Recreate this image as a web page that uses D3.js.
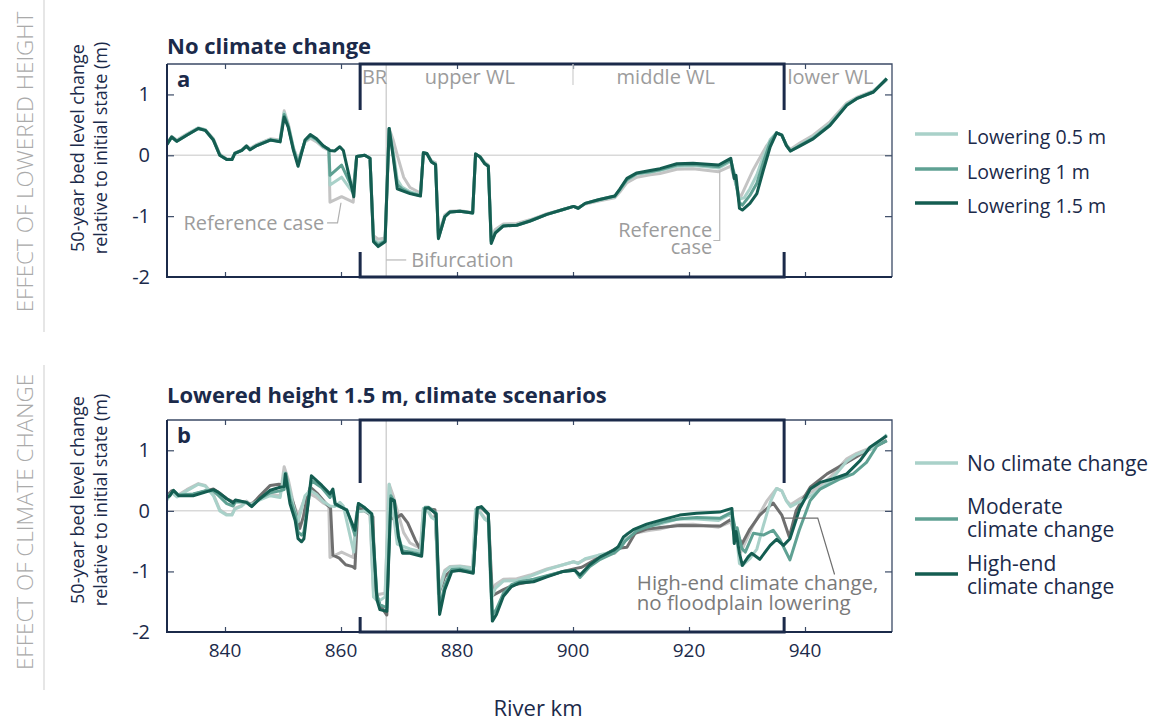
<!DOCTYPE html>
<html>
<head>
<meta charset="utf-8">
<script src="https://cdn.jsdelivr.net/npm/d3@7"></script>
<style>
  body { margin: 0; background: #fff; }
  text { font-family: "Open Sans", "Noto Sans", sans-serif; }
</style>
</head>
<body>
<svg id="chart" width="1171" height="724"></svg>
<script>
// ---- data: 50-year bed level change (m) along the river (km) ----
const riverKmTicks = [840, 860, 880, 900, 920, 940];
const levelTicks = [1, 0, -1, -2];

// reach boundaries (river km)
const waalReach = [863.3, 936.4];
const bifurcationKm = 867.8;
const upperMiddleKm = 900;

// reference case: no floodplain lowering, no climate change
const referenceCase = [[830.0,0.20],[830.8,0.31],[831.7,0.25],[833.4,0.35],[835.4,0.45],[836.6,0.42],[838.0,0.27],[839.1,0.02],[840.3,-0.06],[841.2,-0.06],[841.7,0.04],[842.9,0.09],[843.7,0.16],[844.3,0.11],[845.5,0.18],[847.8,0.27],[849.5,0.25],[850.2,0.73],[850.9,0.52],[851.8,0.12],[852.6,-0.08],[853.8,0.22],[854.7,0.28],[855.8,0.22],[856.9,0.13],[857.9,0.08],[858.1,-0.77],[860.1,-0.68],[862.1,-0.77],[862.7,-0.02],[864.1,0.00],[865.0,-0.05],[865.6,-1.32],[866.4,-1.38],[867.6,-1.36],[868.3,0.44],[869.0,0.25],[869.8,-0.03],[870.8,-0.36],[871.9,-0.53],[873.7,-0.62],[874.2,0.04],[874.8,0.03],[875.6,-0.09],[876.3,-0.12],[876.8,-1.30],[877.9,-0.98],[878.8,-0.92],[880.5,-0.91],[882.7,-0.94],[883.2,0.02],[884.0,-0.02],[884.8,-0.12],[885.4,-0.16],[885.9,-1.35],[886.6,-1.22],[888.0,-1.13],[890.3,-1.12],[892.6,-1.06],[895.5,-0.96],[898.3,-0.89],[900.1,-0.84],[900.9,-0.86],[902.1,-0.80],[904.4,-0.75],[907.2,-0.70],[908.1,-0.60],[909.3,-0.45],[911.0,-0.36],[913.3,-0.32],[915.0,-0.30],[917.9,-0.23],[920.7,-0.22],[925.1,-0.27],[927.2,-0.18],[928.8,-0.71],[931.0,-0.25],[933.4,0.16],[935.1,0.37],[936.0,0.33],[936.8,0.17],[937.5,0.10],[939.1,0.20],[941.4,0.33],[944.3,0.55],[947.2,0.86],[948.9,0.95],[951.8,1.06],[954.1,1.24]];

// floodplain lowering 0.5 m, no climate change
const lowering05 = [[830.0,0.19],[830.8,0.30],[831.7,0.24],[833.4,0.34],[835.4,0.45],[836.6,0.42],[838.0,0.26],[839.1,0.01],[840.3,-0.07],[841.2,-0.07],[841.7,0.03],[842.9,0.08],[843.7,0.15],[844.3,0.10],[845.5,0.17],[847.8,0.26],[849.5,0.24],[850.2,0.70],[850.9,0.50],[851.8,0.12],[852.6,-0.10],[853.8,0.23],[854.7,0.30],[855.8,0.24],[856.9,0.14],[857.9,0.10],[858.1,-0.49],[860.1,-0.36],[862.1,-0.62],[862.7,-0.02],[864.1,0.00],[865.0,-0.05],[865.6,-1.38],[866.4,-1.44],[867.6,-1.40],[868.3,0.44],[869.0,0.08],[869.7,-0.40],[870.5,-0.52],[871.9,-0.60],[873.7,-0.65],[874.2,0.04],[874.8,0.03],[875.6,-0.10],[876.3,-0.14],[876.8,-1.34],[877.9,-1.00],[878.8,-0.93],[880.5,-0.92],[882.7,-0.95],[883.2,0.02],[884.0,-0.03],[884.8,-0.13],[885.4,-0.17],[885.9,-1.40],[886.6,-1.25],[888.0,-1.15],[890.3,-1.14],[892.6,-1.07],[895.5,-0.97],[898.3,-0.89],[900.1,-0.84],[900.9,-0.87],[902.1,-0.79],[904.4,-0.74],[907.2,-0.68],[908.1,-0.57],[909.3,-0.41],[911.0,-0.31],[913.3,-0.28],[915.0,-0.25],[917.9,-0.18],[920.7,-0.17],[925.1,-0.21],[927.2,-0.10],[928.7,-0.72],[929.5,-0.70],[930.5,-0.55],[931.7,-0.32],[932.8,-0.02],[934.0,0.26],[935.1,0.37],[936.0,0.33],[936.8,0.16],[937.5,0.08],[939.1,0.17],[941.4,0.30],[944.3,0.52],[947.2,0.84],[948.9,0.94],[951.8,1.05],[954.1,1.25]];

// floodplain lowering 1 m, no climate change
const lowering10 = [[830.0,0.18],[830.8,0.30],[831.7,0.23],[833.4,0.33],[835.4,0.44],[836.6,0.41],[838.0,0.25],[839.1,0.00],[840.3,-0.07],[841.2,-0.07],[841.7,0.03],[842.9,0.08],[843.7,0.15],[844.3,0.09],[845.5,0.16],[847.8,0.25],[849.5,0.23],[850.2,0.67],[850.9,0.48],[851.8,0.10],[852.6,-0.14],[853.8,0.24],[854.7,0.32],[855.8,0.26],[856.9,0.15],[857.9,0.10],[858.1,-0.33],[860.1,-0.16],[862.1,-0.57],[862.7,-0.02],[864.1,0.00],[865.0,-0.05],[865.6,-1.40],[866.4,-1.47],[867.6,-1.41],[868.3,0.44],[869.0,0.00],[869.7,-0.48],[870.5,-0.55],[871.9,-0.62],[873.7,-0.66],[874.2,0.04],[874.8,0.03],[875.6,-0.11],[876.3,-0.15],[876.8,-1.36],[877.9,-1.01],[878.8,-0.93],[880.5,-0.92],[882.7,-0.95],[883.2,0.02],[884.0,-0.03],[884.8,-0.14],[885.4,-0.18],[885.9,-1.42],[886.6,-1.27],[888.0,-1.16],[890.3,-1.15],[892.6,-1.08],[895.5,-0.97],[898.3,-0.89],[900.1,-0.84],[900.9,-0.87],[902.1,-0.79],[904.4,-0.73],[907.2,-0.67],[908.1,-0.56],[909.3,-0.40],[911.0,-0.30],[913.3,-0.27],[915.0,-0.24],[917.9,-0.16],[920.7,-0.15],[925.1,-0.19],[927.2,-0.08],[927.8,-0.30],[928.7,-0.78],[929.2,-0.82],[930.5,-0.66],[931.7,-0.46],[932.8,-0.12],[934.0,0.22],[935.1,0.37],[936.0,0.33],[936.8,0.16],[937.5,0.07],[939.1,0.16],[941.4,0.28],[944.3,0.50],[947.2,0.83],[948.9,0.93],[951.8,1.04],[954.1,1.26]];

// floodplain lowering 1.5 m, no climate change
const lowering15 = [[830.0,0.18],[830.8,0.30],[831.7,0.23],[833.4,0.33],[835.4,0.44],[836.6,0.41],[838.0,0.25],[839.1,0.00],[840.3,-0.07],[841.2,-0.07],[841.7,0.03],[842.9,0.08],[843.7,0.15],[844.3,0.09],[845.5,0.16],[847.8,0.25],[849.5,0.22],[850.2,0.63],[850.9,0.46],[851.8,0.08],[852.6,-0.18],[853.8,0.25],[854.7,0.34],[855.8,0.27],[856.9,0.16],[858.1,0.08],[858.9,0.07],[859.8,0.14],[860.4,0.08],[862.2,-0.68],[862.7,-0.02],[864.1,0.00],[865.0,-0.05],[865.6,-1.42],[866.4,-1.50],[867.6,-1.42],[868.3,0.44],[869.0,-0.03],[869.7,-0.55],[870.5,-0.58],[871.9,-0.63],[873.7,-0.67],[874.2,0.04],[874.8,0.03],[875.6,-0.11],[876.3,-0.15],[876.8,-1.37],[877.9,-1.01],[878.8,-0.93],[880.5,-0.92],[882.7,-0.95],[883.2,0.02],[884.0,-0.03],[884.8,-0.14],[885.4,-0.18],[885.9,-1.45],[886.6,-1.28],[888.0,-1.16],[890.3,-1.15],[892.6,-1.08],[895.5,-0.97],[898.3,-0.89],[900.1,-0.84],[900.9,-0.87],[902.1,-0.79],[904.4,-0.73],[907.2,-0.67],[908.1,-0.55],[909.3,-0.38],[911.0,-0.29],[913.3,-0.25],[915.0,-0.22],[917.9,-0.14],[920.7,-0.13],[925.1,-0.16],[927.2,-0.05],[927.8,-0.38],[928.1,-0.33],[928.7,-0.87],[929.2,-0.90],[930.5,-0.79],[931.7,-0.63],[932.8,-0.25],[934.0,0.14],[935.1,0.37],[936.0,0.33],[936.8,0.16],[937.5,0.07],[939.1,0.15],[941.4,0.27],[944.3,0.49],[947.2,0.82],[948.9,0.93],[951.8,1.04],[954.1,1.26]];

// high-end climate change, no floodplain lowering
const highEndNoLowering = [[830.0,0.25],[830.8,0.33],[831.7,0.26],[834.5,0.27],[838.0,0.36],[839.0,0.30],[840.3,0.20],[841.4,0.15],[841.8,0.17],[843.7,0.14],[844.6,0.10],[846.0,0.25],[847.8,0.42],[849.3,0.44],[850.2,0.42],[850.5,0.55],[851.1,0.30],[851.8,0.12],[852.4,-0.10],[852.9,-0.29],[853.5,-0.10],[854.1,0.20],[854.7,0.39],[856.0,0.28],[857.6,0.10],[858.2,0.05],[858.6,-0.73],[859.7,-0.78],[860.8,-0.89],[862.0,-0.92],[862.4,-0.95],[862.9,0.06],[864.1,0.00],[865.5,-0.10],[865.9,-1.30],[866.7,-1.55],[867.9,-1.72],[868.4,-0.10],[869.2,-0.14],[870.4,-0.06],[871.5,-0.20],[872.8,-0.48],[873.7,-0.64],[874.5,0.04],[876.2,0.02],[876.9,-1.35],[877.9,-1.08],[879.1,-0.98],[882.8,-1.00],[883.5,0.04],[884.2,0.05],[885.4,-0.06],[886.1,-1.40],[888.0,-1.30],[889.8,-1.22],[892.6,-1.17],[895.5,-1.08],[898.3,-1.00],[900.5,-0.95],[901.5,-0.93],[904.7,-0.76],[907.5,-0.62],[909.3,-0.60],[910.7,-0.37],[912.7,-0.30],[918.4,-0.24],[925.4,-0.25],[927.4,-0.13],[928.3,-0.38],[929.1,-0.55],[930.5,-0.30],[932.2,-0.07],[934.5,0.13],[936.0,-0.07],[937.3,-0.43],[938.5,0.01],[940.9,0.39],[943.8,0.61],[947.2,0.80],[950.6,0.99],[954.1,1.16]];

// floodplain lowering 1.5 m, moderate climate change
const moderateClimate = [[830.0,0.22],[830.6,0.28],[831.2,0.33],[832.0,0.26],[834.5,0.28],[836.5,0.33],[838.0,0.33],[838.9,0.25],[840.3,0.12],[841.4,0.08],[841.8,0.15],[843.7,0.14],[844.6,0.08],[846.0,0.20],[847.8,0.30],[849.5,0.33],[850.2,0.35],[850.5,0.62],[851.2,0.20],[852.1,-0.05],[852.6,-0.35],[853.2,-0.40],[853.6,-0.35],[854.9,0.50],[856.7,0.38],[858.1,0.22],[858.6,0.30],[859.0,0.10],[861.0,0.02],[862.4,-0.40],[863.0,0.12],[864.1,0.05],[865.3,-0.05],[866.2,-1.40],[866.7,-1.55],[867.9,-1.60],[868.6,0.25],[869.2,0.15],[869.9,-0.40],[870.6,-0.66],[871.9,-0.68],[873.9,-0.72],[874.5,0.06],[875.1,0.06],[876.4,-0.04],[877.0,-1.62],[877.9,-1.22],[879.1,-0.97],[880.5,-0.96],[882.8,-1.01],[883.5,0.05],[884.2,0.06],[885.4,-0.06],[886.1,-1.72],[886.8,-1.62],[888.0,-1.36],[889.4,-1.22],[890.8,-1.17],[893.2,-1.13],[895.5,-1.07],[898.3,-1.00],[900.3,-0.98],[901.2,-1.10],[902.9,-0.92],[904.7,-0.80],[907.0,-0.70],[908.1,-0.62],[909.0,-0.50],[911.0,-0.33],[912.7,-0.27],[915.6,-0.18],[918.4,-0.13],[921.3,-0.11],[925.4,-0.12],[927.4,-0.02],[928.0,-0.32],[928.3,-0.28],[929.1,-0.62],[929.7,-0.68],[931.1,-0.37],[932.8,-0.40],[934.5,-0.32],[935.7,-0.48],[937.4,-0.81],[939.0,-0.32],[940.9,0.17],[942.6,0.36],[946.1,0.53],[948.3,0.61],[950.6,0.80],[952.4,1.07],[954.1,1.16]];

// floodplain lowering 1.5 m, high-end climate change
const highEndClimate = [[830.0,0.22],[830.5,0.25],[831.1,0.34],[832.0,0.25],[834.5,0.25],[838.0,0.35],[838.8,0.31],[840.3,0.20],[841.4,0.13],[841.8,0.18],[843.7,0.14],[844.6,0.07],[846.0,0.20],[847.8,0.34],[849.5,0.39],[850.2,0.40],[850.4,0.61],[851.2,0.12],[852.1,-0.16],[852.6,-0.46],[853.2,-0.51],[853.6,-0.46],[854.9,0.58],[855.8,0.50],[856.7,0.42],[858.1,0.28],[858.6,0.36],[859.0,0.12],[861.0,0.01],[862.4,-0.32],[863.0,0.12],[864.1,0.05],[865.3,-0.05],[866.2,-1.47],[866.7,-1.63],[867.9,-1.66],[868.6,0.20],[869.2,0.17],[869.9,-0.43],[870.6,-0.70],[871.9,-0.70],[873.9,-0.75],[874.5,0.04],[875.1,0.05],[876.4,-0.05],[877.0,-1.71],[877.9,-1.30],[879.1,-1.00],[880.5,-0.98],[882.8,-1.03],[883.5,0.05],[884.2,0.07],[885.4,-0.05],[886.1,-1.82],[886.8,-1.71],[888.0,-1.41],[889.4,-1.25],[890.8,-1.19],[893.2,-1.17],[895.5,-1.09],[898.3,-1.00],[900.3,-0.98],[901.2,-1.06],[902.9,-0.89],[904.7,-0.76],[907.0,-0.65],[907.8,-0.59],[908.7,-0.43],[910.4,-0.31],[912.7,-0.22],[915.6,-0.14],[918.4,-0.07],[921.3,-0.04],[925.3,-0.02],[927.4,0.04],[927.8,-0.54],[928.1,-0.34],[928.7,-0.70],[929.2,-0.90],[930.2,-0.76],[930.8,-0.70],[932.2,-0.80],[934.0,-0.57],[935.1,-0.47],[936.3,-0.57],[937.4,-0.46],[939.1,0.04],[940.9,0.36],[942.6,0.47],[944.9,0.53],[947.2,0.61],[949.5,0.83],[951.2,1.05],[954.1,1.24]];

// ---- styling ----
const NAVY = "#1b2a4a";
const FRAME = "#3b4a66";
const NOTE = "#9c9c9c";
const C = {
  ref: "#c4c4c4", light: "#a9d1c9", mid: "#5fa193", dark: "#145d51", darkGray: "#6f6f6f"
};

const svg = d3.select("#chart");
const left = 167, right = 892;
const x = d3.scaleLinear().domain([830, 955]).range([left, right]);

const panels = [
  {
    key: "a", title: "No climate change", titleY: 54, top: 64, bottom: 277, gapTop: 46, gapBottom: 25,
    series: [
      {data: referenceCase, color: C.ref},
      {data: lowering05, color: C.light},
      {data: lowering10, color: C.mid},
      {data: lowering15, color: C.dark}
    ],
    legendSize: 19.5,
    legend: [
      {label: ["Lowering 0.5 m"], color: C.light, y: 134, base: [144]},
      {label: ["Lowering 1 m"], color: C.mid, y: 169, base: [179]},
      {label: ["Lowering 1.5 m"], color: C.dark, y: 203, base: [213]}
    ],
    header: "EFFECT OF LOWERED HEIGHT", headerY: 162, ruleY: [0, 332], ylabelY: 148
  },
  {
    key: "b", title: "Lowered height 1.5 m, climate scenarios", titleY: 403, top: 420, bottom: 632, gapTop: 63, gapBottom: 15,
    series: [
      {data: referenceCase, color: C.ref},
      {data: highEndNoLowering, color: C.darkGray},
      {data: lowering15, color: C.light},
      {data: moderateClimate, color: C.mid},
      {data: highEndClimate, color: C.dark}
    ],
    legendSize: 21,
    legend: [
      {label: ["No climate change"], color: C.light, y: 463, base: [471]},
      {label: ["Moderate", "climate change"], color: C.mid, y: 519, base: [514, 537]},
      {label: ["High-end", "climate change"], color: C.dark, y: 574, base: [571, 594]}
    ],
    header: "EFFECT OF CLIMATE CHANGE", headerY: 522, ruleY: [365, 690], ylabelY: 500
  }
];

panels.forEach(p => {
  const y = d3.scaleLinear().domain([-2, 1.5]).range([p.bottom, p.top]);
  const g = svg.append("g");

  // side header with its rule
  g.append("text")
    .attr("transform", `translate(33,${p.headerY}) rotate(-90)`)
    .attr("text-anchor", "middle")
    .attr("font-size", 22.5).attr("font-weight", 300)
    .attr("fill", "#aaaaaa")
    .text(p.header);
  g.append("line")
    .attr("x1", 44).attr("x2", 44).attr("y1", p.ruleY[0]).attr("y2", p.ruleY[1])
    .attr("stroke", "#d6d6d6").attr("stroke-width", 1.2);

  // y axis title (two lines)
  const yl = g.append("text")
    .attr("transform", `translate(0,${p.ylabelY}) rotate(-90)`)
    .attr("text-anchor", "middle")
    .attr("font-size", 18).attr("fill", NAVY);
  yl.append("tspan").attr("x", 0).attr("y", 84).text("50-year bed level change");
  yl.append("tspan").attr("x", 0).attr("y", 107).text("relative to initial state (m)");

  // panel title
  g.append("text")
    .attr("x", left).attr("y", p.titleY)
    .attr("font-size", 22).attr("font-weight", 700).attr("fill", NAVY)
    .text(p.title);

  // zero reference line
  g.append("line")
    .attr("x1", left).attr("x2", right).attr("y1", y(0)).attr("y2", y(0))
    .attr("stroke", "#d9d9d9").attr("stroke-width", 1.5);

  // bifurcation marker
  g.append("line")
    .attr("x1", x(bifurcationKm)).attr("x2", x(bifurcationKm))
    .attr("y1", p.top).attr("y2", p.bottom)
    .attr("stroke", "#d2d2d2").attr("stroke-width", 1.5);

  // axes with inward ticks on all four sides
  const fmt = d => String(d);
  const ax = [
    {gen: d3.axisBottom(x).tickValues(riverKmTicks).tickSize(-5).tickFormat(""), t: `translate(0,${p.bottom})`},
    {gen: d3.axisTop(x).tickValues(riverKmTicks).tickSize(-5).tickFormat(""), t: `translate(0,${p.top})`},
    {gen: d3.axisLeft(y).tickValues(levelTicks.slice(0, 3)).tickSize(-7).tickFormat(""), t: `translate(${left},0)`},
    {gen: d3.axisRight(y).tickValues(levelTicks.slice(0, 3)).tickSize(-7).tickFormat(""), t: `translate(${right},0)`}
  ];
  ax.forEach(a => {
    const ag = g.append("g").attr("transform", a.t).call(a.gen);
    ag.select(".domain").remove();
    ag.selectAll(".tick line").attr("stroke", FRAME).attr("stroke-width", 1.2);
  });

  // tick labels
  g.selectAll(".ylab").data(levelTicks).join("text")
    .attr("x", 150).attr("y", d => y(d) + 7)
    .attr("text-anchor", "end").attr("font-size", 20).attr("fill", NAVY)
    .text(fmt);
  if (p.key === "b") {
    g.selectAll(".xlab").data(riverKmTicks).join("text")
      .attr("x", d => x(d)).attr("y", p.bottom + 25)
      .attr("text-anchor", "middle").attr("font-size", 19).attr("fill", NAVY)
      .text(fmt);
  }

  // curves
  const line = d3.line().x(d => x(d[0])).y(d => y(d[1]));
  const clip = "clip-" + p.key;
  g.append("clipPath").attr("id", clip).append("rect")
    .attr("x", left).attr("y", p.top).attr("width", right - left).attr("height", p.bottom - p.top);
  g.append("g").attr("clip-path", `url(#${clip})`)
    .selectAll("path").data(p.series).join("path")
    .attr("d", s => line(s.data))
    .attr("fill", "none").attr("stroke", s => s.color)
    .attr("stroke-width", 3).attr("stroke-linejoin", "round");

  // frame
  g.append("path")
    .attr("d", `M${left},${p.top}H${right}V${p.bottom}`)
    .attr("fill", "none").attr("stroke", FRAME).attr("stroke-width", 1.3);
  g.append("path")
    .attr("d", `M${left},${p.top}V${p.bottom}H${right}`)
    .attr("fill", "none").attr("stroke", NAVY).attr("stroke-width", 2);

  // Waal reach bracket
  const bx0 = x(waalReach[0]), bx1 = x(waalReach[1]);
  g.append("path")
    .attr("d", `M${bx0},${p.top + p.gapTop}V${p.top}H${bx1}V${p.top + p.gapTop}` +
               `M${bx0},${p.bottom - p.gapBottom}V${p.bottom}H${bx1}V${p.bottom - p.gapBottom}`)
    .attr("fill", "none").attr("stroke", NAVY).attr("stroke-width", 3);

  // panel letter
  g.append("text")
    .attr("x", left + 10).attr("y", p.top + 23)
    .attr("font-size", 22).attr("font-weight", 700).attr("fill", NAVY)
    .text(p.key);

  // legend
  const lg = g.append("g");
  p.legend.forEach(e => {
    lg.append("line").attr("x1", 915).attr("x2", 958).attr("y1", e.y).attr("y2", e.y)
      .attr("stroke", e.color).attr("stroke-width", 3.5);
    e.label.forEach((s, i) => {
      lg.append("text").attr("x", 967).attr("y", e.base[i])
        .attr("font-size", p.legendSize).attr("fill", NAVY).text(s);
    });
  });

  const note = (sel) => sel.attr("font-size", 20).attr("fill", NOTE);
  const leader = (pts, color) => g.append("path")
    .attr("d", d3.line()(pts)).attr("fill", "none")
    .attr("stroke", color).attr("stroke-width", 1.2);

  if (p.key === "a") {
    // reach names
    const reachLabels = [
      {km: 863.6, text: "BR", anchor: "start"},
      {km: 882.2, text: "upper WL", anchor: "middle"},
      {km: 916.0, text: "middle WL", anchor: "middle"},
      {km: 944.4, text: "lower WL", anchor: "middle"}
    ];
    reachLabels.forEach(r => note(g.append("text"))
      .attr("x", x(r.km)).attr("y", p.top + 20).attr("text-anchor", r.anchor)
      .text(r.text));
    g.append("line").attr("x1", x(upperMiddleKm)).attr("x2", x(upperMiddleKm))
      .attr("y1", p.top).attr("y2", p.top + 21).attr("stroke", "#d2d2d2").attr("stroke-width", 1.3);

    // reference case (upstream)
    leader([[x(857.6), y(-1.11)], [x(859.4), y(-1.11)], [x(860.0), y(-0.78)]], "#b0b0b0");
    note(g.append("text")).attr("x", x(857.1)).attr("y", y(-1.11) + 7)
      .attr("text-anchor", "end").text("Reference case");

    // bifurcation
    leader([[x(bifurcationKm), y(-1.72)], [x(bifurcationKm) + 20, y(-1.72)]], "#b8b8b8");
    note(g.append("text")).attr("x", x(bifurcationKm) + 25).attr("y", y(-1.72) + 7).text("Bifurcation");

    // reference case (downstream)
    leader([[x(925.3), y(-0.26)], [x(925.3), y(-1.40)], [x(924.2), y(-1.40)]], "#b8b8b8");
    note(g.append("text")).attr("text-anchor", "end")
      .attr("x", x(924.0)).attr("y", y(-1.40) - 3).text("Reference");
    note(g.append("text")).attr("text-anchor", "end")
      .attr("x", x(924.0)).attr("y", y(-1.40) + 14).text("case");
  } else {
    leader([[x(936.2), y(-0.12)], [x(942.2), y(-0.12)], [x(945.1), y(-1.05)]], "#6f6f6f");
    g.append("text").attr("font-size", 20.5).attr("fill", "#7a7a7a")
      .attr("x", x(911.0)).attr("y", y(-1.3)).text("High-end climate change,");
    g.append("text").attr("font-size", 20.5).attr("fill", "#7a7a7a")
      .attr("x", x(911.0)).attr("y", y(-1.3) + 20).text("no floodplain lowering");
  }
});

// x axis title
svg.append("text")
  .attr("x", 538).attr("y", 716)
  .attr("text-anchor", "middle").attr("font-size", 22).attr("fill", NAVY)
  .text("River km");
</script>
</body>
</html>
